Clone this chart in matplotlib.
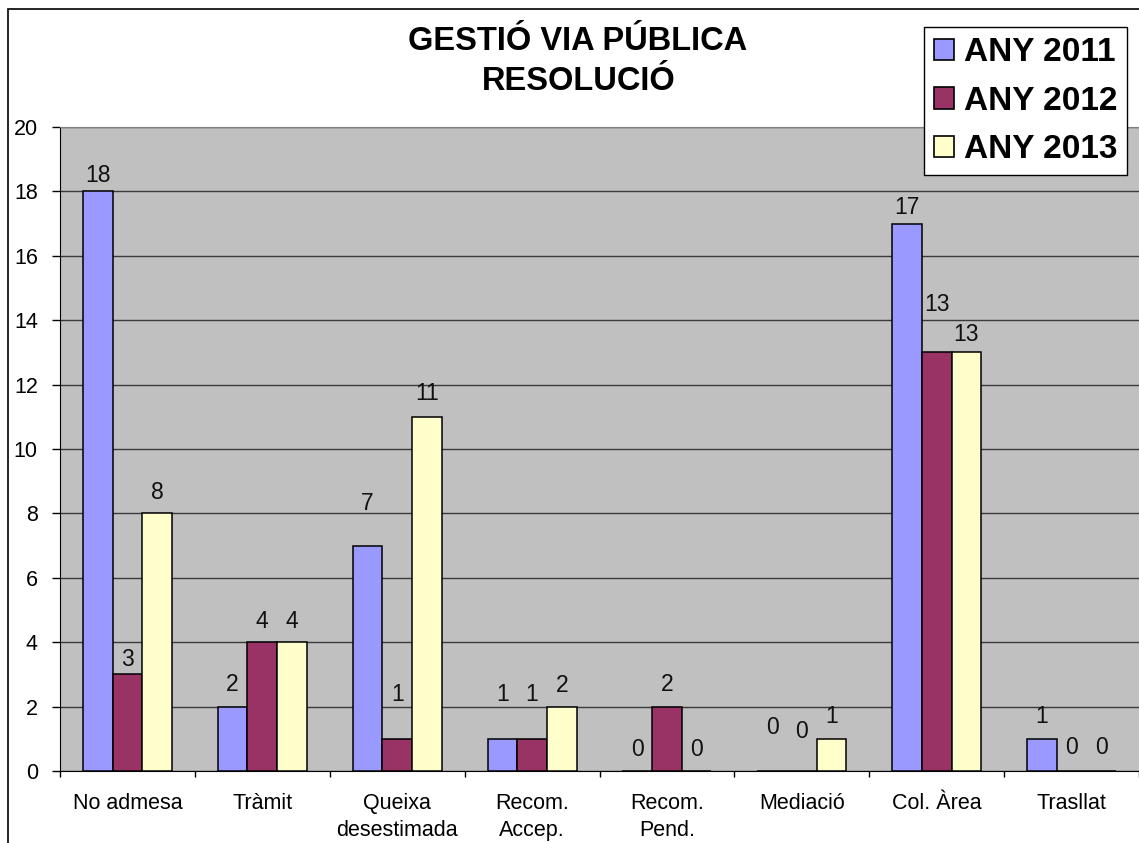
import matplotlib
matplotlib.use("Agg")
import matplotlib.pyplot as plt
from matplotlib.patches import Patch, Rectangle
import numpy as np

plt.rcParams["font.family"] = ["Liberation Sans", "DejaVu Sans"]

CATEGORIES = ["No admesa", "Tràmit", "Queixa\ndesestimada", "Recom.\nAccep.",
              "Recom.\nPend.", "Mediació", "Col. Àrea", "Trasllat"]
SERIES = ["ANY 2011", "ANY 2012", "ANY 2013"]
ANY_2011 = [18, 2, 7, 1, 0, 0, 17, 1]
ANY_2012 = [3, 4, 1, 1, 2, 0, 13, 0]
ANY_2013 = [8, 4, 11, 2, 0, 1, 13, 0]

COLORS = ["#9999FF", "#993366", "#FFFFCC"]

# height of each value label above its bar (pixels, label centre), as placed in the original
LABEL_RAISE = [
    [16, 15, 21], [22, 21, 21], [42, 44, 23], [44, 44, 21],
    [21, 22, 21], [43, 39, 22], [16, 48, 18], [22, 23, 23],
]

W, H = 1139, 843
fig = plt.figure(figsize=(W / 100, H / 100), dpi=100)
fig.patch.set_facecolor("white")

# outer chart border (cut off at right/bottom like the original)
fig.patches.append(Rectangle((8 / W, -0.1), 1.2, 1 - 9 / H + 0.1, transform=fig.transFigure,
                             fill=False, edgecolor="black", linewidth=1.2))

ax = fig.add_axes([60 / W, 72 / H, (W - 60) / W, 644 / H])
ax.set_facecolor("#C0C0C0")

x = np.arange(len(CATEGORIES))
bw = 0.22
values = [ANY_2011, ANY_2012, ANY_2013]
for i, (vals, col, name) in enumerate(zip(values, COLORS, SERIES)):
    pos = x + (i - 1) * bw
    ax.bar(pos, vals, bw, color=col, edgecolor="black", linewidth=1.1, label=name, zorder=3)
    for j, (p, v) in enumerate(zip(pos, vals)):
        ax.annotate(str(v), (p, v), xytext=(0, LABEL_RAISE[j][i] * 0.72), textcoords="offset points",
                    ha="center", va="center", fontsize=16.5, color="#111111", zorder=4)

ax.set_ylim(0, 20)
ax.set_yticks(range(0, 21, 2))
ax.set_xlim(-0.5, -0.5 + (W - 60) / 136.1)
ax.yaxis.grid(True, color="#3a3a3a", linewidth=1.0, zorder=1)
ax.set_axisbelow(True)

ax.set_xticks(x)
ax.set_xticklabels(CATEGORIES, fontsize=15.5, linespacing=1.35, va="top")
ax.set_xticks(np.arange(-0.5, len(CATEGORIES), 1.0), minor=True)
ax.tick_params(axis="x", which="major", length=0, pad=16)
ax.tick_params(axis="x", which="minor", length=4, width=1, color="black")
ax.tick_params(axis="y", length=6, width=1, pad=10, labelsize=15.5)

ax.spines["left"].set_color("black")
ax.spines["bottom"].set_color("black")
ax.spines["top"].set_color("#808080")
ax.spines["right"].set_visible(False)

fig.text(578 / W, 1 - 42 / H, "GESTIÓ VIA PÚBLICA", ha="center", va="center",
         fontsize=23.5, fontweight="bold")
fig.text(579 / W, 1 - 82 / H, "RESOLUCIÓ", ha="center", va="center",
         fontsize=23.5, fontweight="bold")

handles = [Patch(facecolor=c, edgecolor="black", linewidth=1.2) for c in COLORS]
leg = fig.legend(handles, SERIES, loc="upper right", bbox_to_anchor=(1127 / W, 1 - 27 / H),
                 prop={"size": 24, "weight": "bold"}, frameon=True, fancybox=False,
                 framealpha=1, handlelength=0.6, handleheight=0.6, handletextpad=0.3,
                 labelspacing=0.53, borderpad=0.3, borderaxespad=0)
leg.get_frame().set_edgecolor("black")
leg.get_frame().set_linewidth(1.0)
leg.get_frame().set_facecolor("white")

fig.savefig("out.png", dpi=100)
